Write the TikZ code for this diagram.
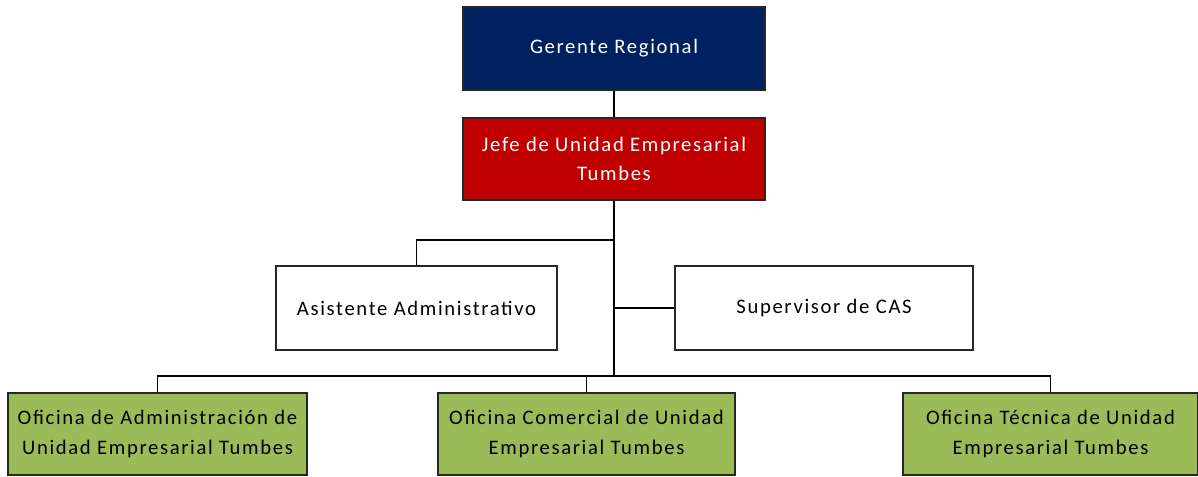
\documentclass[tikz,border=0pt]{standalone}
\usepackage{fontspec}
\setmainfont{Carlito}[LetterSpace=8]
\usetikzlibrary{positioning,calc}
\definecolor{navy}{HTML}{002060}
\definecolor{darkred}{HTML}{C00000}
\definecolor{olive}{HTML}{9BBB59}
\tikzset{
  % Org unit box
  orgbox/.style={draw=black!85, rectangle, line width=0.9pt, align=center,
                 inner sep=2pt, font=\fontsize{15.5}{22}\selectfont},
  headbox/.style={orgbox, fill=navy, text=white},
  chiefbox/.style={orgbox, fill=darkred, text=white},
  staffbox/.style={orgbox, fill=white, text=black},
  officebox/.style={orgbox, fill=olive, text=black},
  % Connectors
  link/.style={line width=0.9pt, black}
}
\begin{document}
\begin{tikzpicture}[x=0.75pt, y=-0.75pt]
\useasboundingbox (0,0) rectangle (1198,477);

% ============== Top: management ==============
\node[headbox, minimum width=226.5pt, minimum height=62.25pt] (ger) at (614,48.5) {Gerente Regional};
\node[chiefbox, minimum width=226.5pt, minimum height=61.5pt] (jefe) at (614,159)
  {Jefe de Unidad Empresarial\\Tumbes};

% ============== Staff ==============
\node[staffbox, minimum width=210.75pt, minimum height=63pt] (asis) at (416.5,308) {Asistente Administrativo};
\node[staffbox, minimum width=223.5pt, minimum height=63pt] (sup) at (824,308) {Supervisor de CAS};

% ============== Offices ==============
\node[officebox, minimum width=224.25pt, minimum height=61.5pt] (ofadm) at (157.5,434)
  {Oficina de Administración de\\Unidad Empresarial Tumbes};
\node[officebox, minimum width=222.75pt, minimum height=61.5pt] (ofcom) at (586.5,434)
  {Oficina Comercial de Unidad\\Empresarial Tumbes};
\node[officebox, minimum width=221.25pt, minimum height=61.5pt] (oftec) at (1050.5,434)
  {Oficina Técnica de Unidad\\Empresarial Tumbes};

% ============== Connectors ==============
\coordinate (bus) at (614,376);
\draw[link] (ger.south) -- (jefe.north);
\draw[link] (jefe.south) -- (bus);
\draw[link] (jefe.south |- 0,240) -| (asis.north);
\draw[link] (jefe.south |- sup.west) -- (sup.west);
\draw[link] (ofadm.north) |- (bus) -| (oftec.north);
\draw[link] (ofcom.north) -- (ofcom.north |- bus);

\end{tikzpicture}
\end{document}
